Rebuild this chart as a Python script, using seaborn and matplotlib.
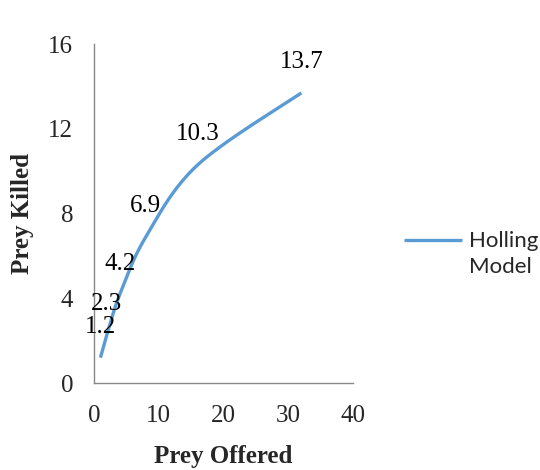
import numpy as np
import pandas as pd
import matplotlib
matplotlib.use("Agg")
import matplotlib.pyplot as plt
import seaborn as sns

prey_offered = [1, 2, 4, 8, 16, 32]
prey_killed = [1.2, 2.3, 4.2, 6.9, 10.3, 13.7]
series_name = "Holling\nModel"
x_ticks = [0, 10, 20, 30, 40]
y_ticks = [0, 4, 8, 12, 16]

LINE_COLOR = "#5B9BD5"
AXIS_COLOR = "#888888"


def smooth_curve(xs, ys, steps=40):
    """Cubic Bezier smoothing through every point (Catmull-Rom style)."""
    p = np.column_stack([xs, ys]).astype(float)
    ext = np.vstack([p[0], p, p[-1]])
    out = [p[0]]
    t = np.linspace(0, 1, steps)[1:, None]
    for i in range(len(p) - 1):
        p0, p3 = ext[i + 1], ext[i + 2]
        c1 = p0 + (ext[i + 2] - ext[i]) / 6.0
        c2 = p3 - (ext[i + 3] - ext[i + 1]) / 6.0
        seg = ((1 - t) ** 3) * p0 + 3 * ((1 - t) ** 2) * t * c1 \
            + 3 * (1 - t) * t ** 2 * c2 + t ** 3 * p3
        out.extend(seg)
    out = np.array(out)
    return out[:, 0], out[:, 1]


sns.set_style("white")
plt.rcParams["font.family"] = ["Liberation Serif", "DejaVu Serif"]

fig = plt.figure(figsize=(5.4, 4.7), dpi=100)
ax = fig.add_axes([0.174, 0.185, 0.480, 0.721])

sx, sy = smooth_curve(prey_offered, prey_killed)
curve = pd.DataFrame({"Prey Offered": sx, "Prey Killed": sy})
sns.lineplot(data=curve, x="Prey Offered", y="Prey Killed", sort=False,
             color=LINE_COLOR, linewidth=2.4, ax=ax, label=series_name,
             solid_capstyle="butt")

for xv, yv in zip(prey_offered, prey_killed):
    ax.annotate(f"{yv}", (xv, yv), xytext=(0, 22), textcoords="offset points",
                ha="center", va="center", fontsize=18, color="black")

ax.set_xlim(0, 40)
ax.set_ylim(0, 16)
ax.set_xticks(x_ticks)
ax.set_yticks(y_ticks)
ax.tick_params(axis="both", direction="out", length=5, width=1,
               color=AXIS_COLOR, labelsize=18)
ax.tick_params(axis="x", pad=10.5)
ax.tick_params(axis="y", pad=10)
for side in ("top", "right"):
    ax.spines[side].set_visible(False)
for side in ("left", "bottom"):
    ax.spines[side].set_color(AXIS_COLOR)
    ax.spines[side].set_linewidth(1)

ax.set_xlabel("Prey Offered", fontsize=18, fontweight="bold", labelpad=13)
ax.set_ylabel("Prey Killed", fontsize=18, fontweight="bold", labelpad=10)

leg = ax.legend(loc="center left", bbox_to_anchor=(1.12, 0.38), frameon=False,
                handlelength=2.6, handletextpad=0.3,
                prop={"family": "Lato", "size": 16})
for txt in leg.get_texts():
    txt.set_linespacing(1.36)
# keep the legend line level with the first text line
hline = leg.legend_handles[0]
yd = np.asarray(hline.get_ydata(), dtype=float)
hline.set_ydata(yd + 10.8)

fig.savefig("out.png", dpi=100)
